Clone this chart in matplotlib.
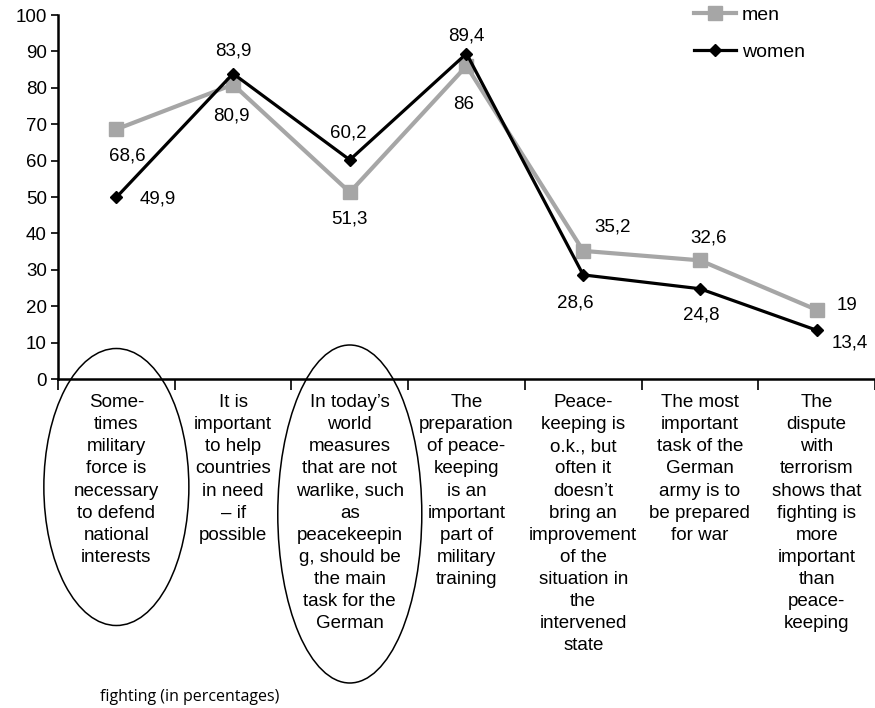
import matplotlib
matplotlib.use('Agg')
from matplotlib import pyplot as plt
from matplotlib.patches import Ellipse
from matplotlib.transforms import blended_transform_factory
from matplotlib.ticker import MultipleLocator

plt.rcParams['font.family'] = ['Liberation Sans', 'DejaVu Sans']

categories = [
    'Some-\ntimes\nmilitary\nforce is\nnecessary\nto defend\nnational\ninterests',
    'It is\nimportant\nto help\ncountries\nin need\n\u2013 if\npossible',
    'In today\u2019s\nworld\nmeasures\nthat are not\nwarlike, such\nas\npeacekeepin\ng, should be\nthe main\ntask for the\nGerman',
    'The\npreparation\nof peace-\nkeeping\nis an\nimportant\npart of\nmilitary\ntraining',
    'Peace-\nkeeping is\no.k., but\noften it\ndoesn\u2019t\nbring an\nimprovement\nof the\nsituation in\nthe\nintervened\nstate',
    'The most\nimportant\ntask of the\nGerman\narmy is to\nbe prepared\nfor war',
    'The\ndispute\nwith\nterrorism\nshows that\nfighting is\nmore\nimportant\nthan\npeace-\nkeeping',
]
men = [68.6, 80.9, 51.3, 86, 35.2, 32.6, 19]
women = [49.9, 83.9, 60.2, 89.4, 28.6, 24.8, 13.4]

# label offsets in points (dx, dy) relative to each marker
men_off = [(8, -19), (-1, -23), (0, -19), (-2, -28), (21, 17), (6, 16), (22, 3)]
women_off = [(30, -1), (0, 16), (-1, 19), (0, 13), (-6, -20), (1, -19), (24, -9)]


def fmt(v):
    return '{:g}'.format(v).replace('.', ',')


fig = plt.figure(figsize=(8.75, 7.08), dpi=100)
ax = fig.add_axes([58 / 875, 1 - 379 / 708, 817 / 875, 364 / 708])

x = list(range(len(categories)))
ax.plot(x, men, color='#a6a6a6', lw=3, marker='s', ms=9.5, label='men', zorder=3)
ax.plot(x, women, color='black', lw=2.3, marker='D', ms=6.5, label='women', zorder=4)

for xi, v, (dx, dy) in zip(x, men, men_off):
    ax.annotate(fmt(v), (xi, v), xytext=(dx, dy), textcoords='offset points',
                ha='center', va='center', fontsize=13.5, zorder=5)
for xi, v, (dx, dy) in zip(x, women, women_off):
    ax.annotate(fmt(v), (xi, v), xytext=(dx, dy), textcoords='offset points',
                ha='center', va='center', fontsize=13.5, zorder=5)

ax.set_xlim(-0.5, len(categories) - 0.5)
ax.set_ylim(0, 100)
ax.yaxis.set_major_locator(MultipleLocator(10))
ax.tick_params(axis='y', direction='out', length=5, width=1.2, labelsize=13.5, pad=3)

ax.set_xticks(x)
ax.set_xticklabels(categories, fontsize=13.5, linespacing=1.39, va='top')
ax.set_xticks([i - 0.5 for i in range(len(categories) + 1)], minor=True)
ax.tick_params(axis='x', which='major', length=0, pad=11)
ax.tick_params(axis='x', which='minor', direction='out', length=8, width=1.2)

for s in ('top', 'right'):
    ax.spines[s].set_visible(False)
for s in ('left', 'bottom'):
    ax.spines[s].set_linewidth(1.8)

# ovals around the first and third statements
tr = blended_transform_factory(ax.transData, fig.transFigure)
ax.add_artist(Ellipse((0, 1 - 487 / 708), 145 / 116.7, 277 / 708, transform=tr,
                      fill=False, lw=1.1, color='black', clip_on=False))
ax.add_artist(Ellipse((2, 1 - 514 / 708), 144 / 116.7, 338 / 708, transform=tr,
                      fill=False, lw=1.1, color='black', clip_on=False))

fig.legend(loc='upper left', bbox_to_anchor=(676 / 875, 1 + 11 / 708), frameon=False,
           fontsize=14, handlelength=2.2, handletextpad=0.3, labelspacing=1.0)

fig.text(100 / 875, 1 - 697 / 708, 'fighting (in percentages)', family='Open Sans',
         fontsize=11.5, va='center', ha='left')

fig.savefig('out.png', dpi=100)
